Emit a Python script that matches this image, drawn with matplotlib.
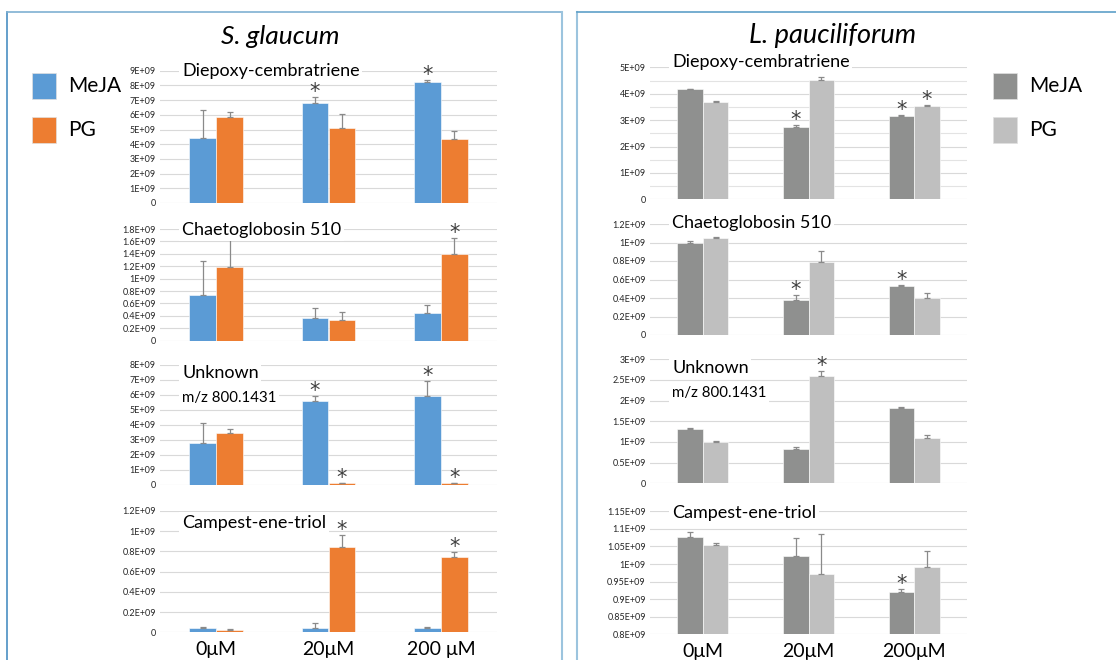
# Two panels of grouped bar charts: MeJA vs PG treatment for four compounds

import matplotlib.pyplot as plt
from matplotlib.lines import Line2D
from matplotlib.ticker import FuncFormatter, MultipleLocator
import numpy as np

plt.rcParams['font.family'] = ['Lato', 'DejaVu Sans']

doses_left = ['0μM', '20μM', '200 μM']
doses_right = ['0μM', '20μM', '200μM']
compounds = ['Diepoxy-cembratriene', 'Chaetoglobosin 510',
             'Unknown\nm/z 800.1431', 'Campest-ene-triol']

# values in units of 1E+09, order: 0, 20, 200 uM
# S. glaucum
sg_meja = [[4.45, 6.82, 8.23], [0.73, 0.36, 0.44], [2.81, 5.57, 5.95], [0.043, 0.046, 0.040]]
sg_meja_err = [[1.87, 0.38, 0.16], [0.55, 0.16, 0.14], [1.29, 0.38, 0.95], [0.013, 0.05, 0.01]]
sg_pg = [[5.86, 5.09, 4.36], [1.19, 0.333, 1.40], [3.43, 0.11, 0.11], [0.026, 0.847, 0.745]]
sg_pg_err = [[0.30, 0.96, 0.57], [0.45, 0.124, 0.26], [0.31, 0.02, 0.02], [0.007, 0.115, 0.045]]
sg_meja_sig = [[0, 1, 1], [0, 0, 0], [0, 1, 1], [0, 0, 0]]
sg_pg_sig = [[0, 0, 0], [0, 0, 1], [0, 1, 1], [0, 1, 1]]

# L. pauciliforum
lp_meja = [[4.17, 2.74, 3.17], [0.998, 0.375, 0.533], [1.32, 0.823, 1.83], [1.076, 1.022, 0.921]]
lp_meja_err = [[0.02, 0.07, 0.02], [0.015, 0.054, 0.007], [0.025, 0.05, 0.015], [0.016, 0.051, 0.008]]
lp_pg = [[3.69, 4.52, 3.52], [1.045, 0.793, 0.40], [1.008, 2.597, 1.105], [1.054, 0.973, 0.991]]
lp_pg_err = [[0.02, 0.13, 0.05], [0.011, 0.112, 0.05], [0.016, 0.11, 0.055], [0.007, 0.111, 0.047]]
lp_meja_sig = [[0, 1, 1], [0, 1, 1], [0, 0, 0], [0, 0, 1]]
lp_pg_sig = [[0, 0, 1], [0, 0, 0], [0, 1, 0], [0, 0, 0]]

# y axis ranges and steps (1E+09 units)
sg_ylims = [(0, 9), (0, 1.8), (0, 8), (0, 1.2)]
sg_steps = [1, 0.2, 1, 0.2]
lp_ylims = [(0, 5), (0, 1.2), (0, 3), (0.8, 1.15)]
lp_steps = [1, 0.2, 0.5, 0.05]

W, H = 1116, 660
fig = plt.figure(figsize=(W / 100, H / 100), dpi=100)


def px_axes(x0, x1, ytop, ybot):
    return fig.add_axes([x0 / W, 1 - ybot / H, (x1 - x0) / W, (ybot - ytop) / H])


def excel_fmt(v, pos=None):
    if abs(v) < 1e-9:
        return '0'
    return f'{round(v, 3):g}E+09'


def draw_panel(ax, meja, meja_err, pg, pg_err, meja_sig, pg_sig, ylim, step,
               colors, minor=None):
    x = np.arange(3)
    w = 0.24
    base = ylim[0]
    ax.bar(x - w / 2, np.array(meja) - base, w, bottom=base, color=colors[0],
           edgecolor='white', linewidth=0.4, zorder=3)
    ax.bar(x + w / 2, np.array(pg) - base, w, bottom=base, color=colors[1],
           edgecolor='white', linewidth=0.4, zorder=3)
    ax.errorbar(x - w / 2, meja, yerr=[np.zeros(3), meja_err], fmt='none',
                ecolor='#8a8a8a', elinewidth=0.9, capsize=2.5, capthick=0.9, zorder=4)
    ax.errorbar(x + w / 2, pg, yerr=[np.zeros(3), pg_err], fmt='none',
                ecolor='#8a8a8a', elinewidth=0.9, capsize=2.5, capthick=0.9, zorder=4)
    for vals, errs, sig, off in [(meja, meja_err, meja_sig, -w / 2), (pg, pg_err, pg_sig, w / 2)]:
        for i in range(3):
            if sig[i]:
                ax.annotate('*', (i + off, vals[i] + errs[i]), xytext=(0, -3.5),
                            textcoords='offset points', ha='center', va='bottom',
                            fontsize=15, color='#404040', family='DejaVu Sans', zorder=6)
    ax.set_xlim(-0.5, 2.5)
    ax.set_ylim(*ylim)
    ax.yaxis.set_major_locator(MultipleLocator(step))
    ax.yaxis.set_major_formatter(FuncFormatter(excel_fmt))
    if minor:
        ax.yaxis.set_minor_locator(MultipleLocator(minor))
        ax.grid(axis='y', which='minor', color='#e3e3e3', linewidth=0.8, zorder=0)
    ax.grid(axis='y', which='major', color='#d9d9d9', linewidth=0.8, zorder=0)
    for s in ax.spines.values():
        s.set_visible(False)
    ax.tick_params(axis='both', which='both', length=0)
    ax.tick_params(axis='y', labelsize=6.5, labelcolor='#262626', pad=3)
    ax.set_xticks(x)
    ax.set_xticklabels([])


def label_compound(ax, xs, ys, name):
    # drawn inside the axes so the asterisks stay on top of the white box
    lines = name.split('\n')
    ax.text(xs / W, 1 - ys / H, lines[0], fontsize=13, va='center', ha='left',
            transform=fig.transFigure, zorder=5,
            bbox=dict(facecolor='white', edgecolor='none', pad=2))
    if len(lines) > 1:
        ax.text(xs / W, 1 - (ys + 25) / H, lines[1], fontsize=10.8, va='center', ha='left',
                transform=fig.transFigure, zorder=5,
                bbox=dict(facecolor='white', edgecolor='none', pad=2))


# S. glaucum subplots (pixel positions)
sg_rows = [(70.7, 203), (229, 340.7), (365, 484.7), (511, 632.3)]
sg_text_y = [71, 230, 373, 523]
blue_orange = ['#5b9bd5', '#ed7d31']
for k in range(4):
    ax = px_axes(160, 497, *sg_rows[k])
    draw_panel(ax, sg_meja[k], sg_meja_err[k], sg_pg[k], sg_pg_err[k],
               sg_meja_sig[k], sg_pg_sig[k], sg_ylims[k], sg_steps[k], blue_orange)
    label_compound(ax, 182, sg_text_y[k], compounds[k])
    if k == 3:
        ax.set_xticklabels(doses_left, fontsize=14, color='black')
        ax.tick_params(axis='x', pad=6)

# L. pauciliforum subplots
lp_rows = [(67.3, 199.3), (224, 335), (359.3, 483.3), (511.3, 634.3)]
lp_text_y = [62, 223, 368, 513]
greys = ['#8f908f', '#bfbfbf']
for k in range(4):
    ax = px_axes(650, 967, *lp_rows[k])
    draw_panel(ax, lp_meja[k], lp_meja_err[k], lp_pg[k], lp_pg_err[k],
               lp_meja_sig[k], lp_pg_sig[k], lp_ylims[k], lp_steps[k], greys,
               minor=0.5 if k == 0 else None)
    label_compound(ax, 672, lp_text_y[k], compounds[k])
    if k == 3:
        ax.set_xticklabels(doses_right, fontsize=14, color='black')
        ax.tick_params(axis='x', pad=6)

# panel titles
fig.text(280 / W, 1 - 37 / H, 'S. glaucum', fontsize=19, style='italic', ha='center', va='center')
fig.text(833 / W, 1 - 35 / H, 'L. pauciliforum', fontsize=19.5, style='italic', ha='center', va='center')

# legends
legend_names = ['MeJA', 'PG']
for (x0, cols) in [(32, blue_orange), (993, greys)]:
    for i, (nm, c) in enumerate(zip(legend_names, cols)):
        y0 = 73 + i * 44
        fig.add_artist(plt.Rectangle((x0 / W, 1 - (y0 + 26) / H), 24 / W, 26 / H,
                                     transform=fig.transFigure, facecolor=c,
                                     edgecolor='#e0e0e0', linewidth=0.5))
        fig.text((x0 + 36) / W, 1 - (y0 + 13) / H, nm, fontsize=15, va='center', ha='left')

# panel frames
def fline(x0, y0, x1, y1, c, lw):
    fig.add_artist(Line2D([x0 / W, x1 / W], [1 - y0 / H, 1 - y1 / H],
                          transform=fig.transFigure, color=c, linewidth=lw))

fline(7, 12, 7, 660, '#4a8fc2', 1.2)
fline(7, 12, 562, 12, '#7fb0d2', 1.2)
fline(562, 12, 562, 660, '#9cc4de', 1.5)
fline(577, 12, 577, 660, '#9cc4de', 1.5)
fline(577, 12, 1116, 12, '#5ea0c8', 1.2)

plt.savefig('out.png', dpi=100)
